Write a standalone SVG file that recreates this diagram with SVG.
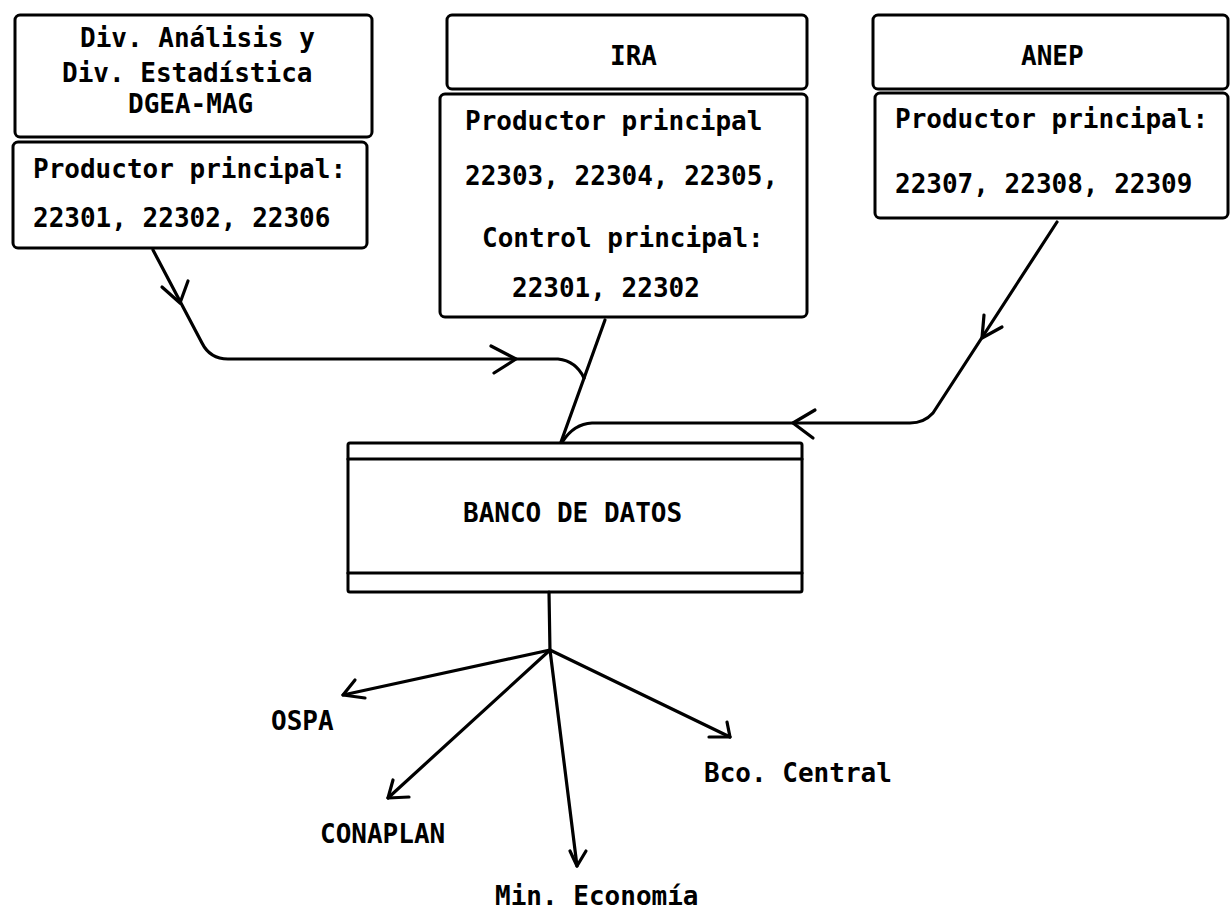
<svg xmlns="http://www.w3.org/2000/svg" width="1231" height="913" viewBox="0 0 1231 913">
<style>
  .box{fill:#fff;stroke:#000;stroke-width:3}
  .t{font-family:"DejaVu Sans Mono","Liberation Mono",monospace;font-weight:bold;font-size:26px;fill:#000}
  .c{fill:none;stroke:#000;stroke-width:3.2;stroke-linecap:round;stroke-linejoin:round}
</style>
<rect width="1231" height="913" fill="#fff"/>
<g id="dgea">
  <rect class="box" x="15" y="15" width="357" height="122" rx="5"/>
  <rect class="box" x="13" y="142" width="354" height="106" rx="5"/>
  <text class="t" x="80" y="47">Div. Análisis y</text>
  <text class="t" x="62" y="82">Div. Estadística</text>
  <text class="t" x="128" y="113">DGEA-MAG</text>
  <text class="t" x="33" y="178">Productor principal:</text>
  <text class="t" x="33" y="227">22301, 22302, 22306</text>
</g>
<g id="ira">
  <rect class="box" x="447" y="15" width="360" height="74" rx="5"/>
  <rect class="box" x="440" y="94" width="367" height="223" rx="5"/>
  <text class="t" x="610" y="65">IRA</text>
  <text class="t" x="465" y="130">Productor principal</text>
  <text class="t" x="465" y="185">22303, 22304, 22305,</text>
  <text class="t" x="482" y="247">Control principal:</text>
  <text class="t" x="512" y="297">22301, 22302</text>
</g>
<g id="anep">
  <rect class="box" x="873" y="15" width="355" height="74" rx="5"/>
  <rect class="box" x="875" y="93" width="353" height="125" rx="5"/>
  <text class="t" x="1021" y="65">ANEP</text>
  <text class="t" x="895" y="128">Productor principal:</text>
  <text class="t" x="895" y="193">22307, 22308, 22309</text>
</g>
<g id="banco">
  <rect class="box" x="348" y="443" width="454" height="149" rx="2"/>
  <line class="c" x1="348" y1="459" x2="802" y2="459"/>
  <line class="c" x1="348" y1="573" x2="802" y2="573"/>
  <text class="t" x="463" y="522">BANCO DE DATOS</text>
</g>
<g id="ospa"><text class="t" x="271" y="730">OSPA</text></g>
<g id="conaplan"><text class="t" x="320" y="843">CONAPLAN</text></g>
<g id="mineco"><text class="t" x="495" y="905">Min. Economía</text></g>
<g id="bco"><text class="t" x="704" y="782">Bco. Central</text></g>
<g id="connectors">
  <path class="c" d="M153,250 L202,343 Q210,359 228,359 L558,359 Q576,361 584,378"/>
  <polyline class="c" points="162,287 180,303 188,281"/>
  <polyline class="c" points="491,346 516,359 494,373"/>
  <path class="c" d="M605,320 L561,442"/>
  <path class="c" d="M1057,222 L933,413 Q924,423 910,423 L592,423 Q574,424 563,441"/>
  <polyline class="c" points="984,315 982,338 1002,327"/>
  <polyline class="c" points="815,410 793,423 813,438"/>
  <path class="c" d="M549,592 L550,652"/>
  <path class="c" d="M550,650 L343,695"/>
  <polyline class="c" points="355,680 343,695 365,698"/>
  <path class="c" d="M550,650 L388,798"/>
  <polyline class="c" points="393,780 388,798 409,797"/>
  <path class="c" d="M550,650 L577,866"/>
  <polyline class="c" points="570,851 577,866 586,851"/>
  <path class="c" d="M550,650 L730,737"/>
  <polyline class="c" points="727,722 730,737 709,737"/>
</g>
</svg>
